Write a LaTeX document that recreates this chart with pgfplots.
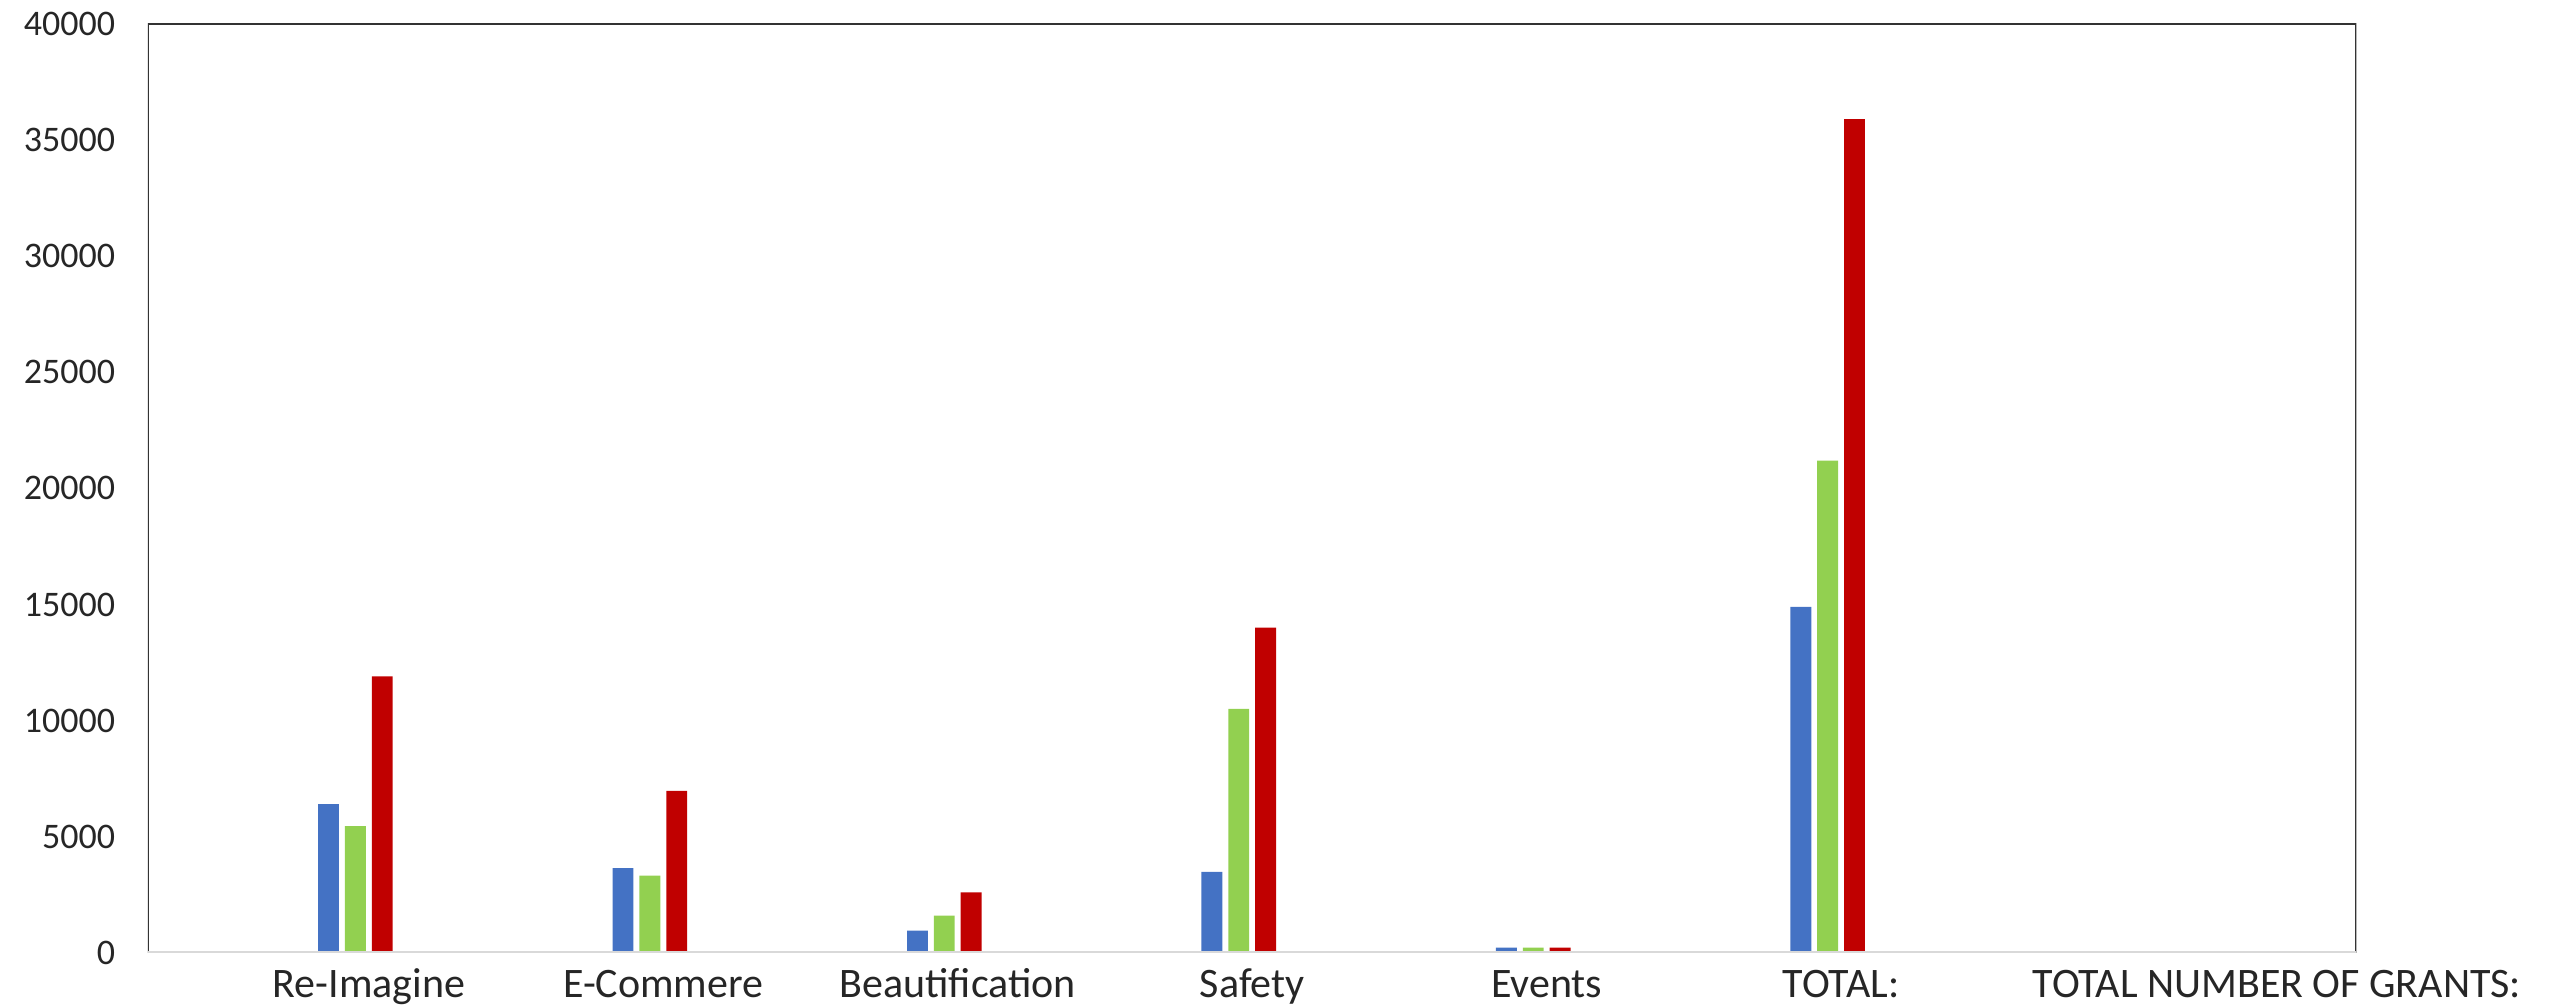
\documentclass[border=0pt]{standalone}
\usepackage{fontspec}
\setmainfont{Carlito}
\usepackage{pgfplots}
\pgfplotsset{compat=1.18}

\definecolor{barblue}{HTML}{4472C4}
\definecolor{bargreen}{HTML}{92D050}
\definecolor{barred}{HTML}{C00000}

\begin{document}
\begin{tikzpicture}
\useasboundingbox (0,0) rectangle (770pt,302.4pt);
\begin{axis}[
    at={(44.4pt,16.5pt)}, anchor=south west,
    width=662.7pt, height=278.7pt,
    scale only axis,
    ymin=0, ymax=40000,
    ytick={0,5000,...,40000},
    scaled y ticks=false,
    xmin=-0.75, xmax=6.75,
    xtick={0,1,2,3,4,5,6.48},
    xticklabels={Re-Imagine,E-Commere,Beautification,Safety,Events,TOTAL:,TOTAL NUMBER OF GRANTS:},
    major tick length=0pt,
    axis line style={draw=none},
    tick label style={text=black!85},
    yticklabel style={font=\fontsize{10.8}{13}\selectfont, xshift=-6.3pt},
    xticklabel style={font=\fontsize{12.6}{15}\selectfont, anchor=base, yshift=-13.5pt},
    /pgf/number format/.cd, 1000 sep={}, assume math mode=true,
]
% blue series
\addplot[ybar, bar width=0.0709, bar shift=-0.1368, fill=barblue, draw=none] coordinates {
    (0,6400) (1,3650) (2,950) (3,3480) (4,220) (5,14900)
};
% green series
\addplot[ybar, bar width=0.0709, bar shift=-0.0456, fill=bargreen, draw=none] coordinates {
    (0,5450) (1,3320) (2,1600) (3,10500) (4,220) (5,21200)
};
% red series
\addplot[ybar, bar width=0.0709, bar shift=0.0456, fill=barred, draw=none] coordinates {
    (0,11900) (1,6970) (2,2600) (3,14000) (4,220) (5,35900)
};
% frame: dark on left/top/right, light grey baseline
\draw[black!80, line width=0.6pt] (rel axis cs:0,0) -- (rel axis cs:0,1) -- (rel axis cs:1,1) -- (rel axis cs:1,0);
\draw[black!15, line width=1pt] (rel axis cs:0,0) -- (rel axis cs:1,0);
\end{axis}
\end{tikzpicture}
\end{document}
